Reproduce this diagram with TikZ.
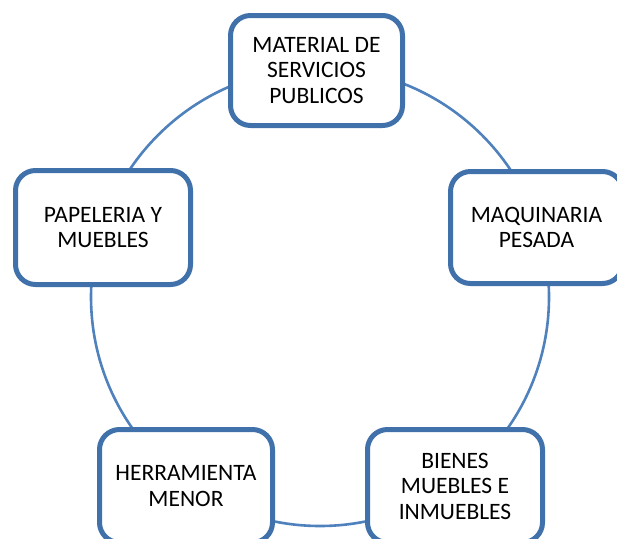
\documentclass[tikz,border=0pt]{standalone}
\usepackage{fontspec}
\setmainfont{Carlito}
\definecolor{ringblue}{RGB}{79,129,189}
\definecolor{boxblue}{RGB}{65,113,170}
\begin{document}
\begin{tikzpicture}[x=1pt,y=-1pt,
  card/.style={draw=boxblue,line width=5pt,rounded corners=20pt,fill=white,
    align=center,font=\fontsize{23.5}{25.5}\selectfont,inner sep=0pt},
  ring/.style={draw=ringblue,line width=2.6pt}]
\useasboundingbox (0,0) rectangle (617,538);
\coordinate (c) at (320,297);
\draw[ring] (c) circle (229);
\node[card,minimum width=172pt,minimum height=110pt] (top) at (316.5,70.5) {MATERIAL DE\\SERVICIOS\\PUBLICOS};
\node[card,minimum width=172pt,minimum height=112pt] (right) at (536.5,227.5) {MAQUINARIA\\PESADA};
\node[card,minimum width=175pt,minimum height=114pt] (left) at (103,227.5) {PAPELERIA Y\\MUEBLES};
\node[card,minimum width=173pt,minimum height=113pt] (bl) at (186,486) {HERRAMIENTA\\MENOR};
\node[card,minimum width=175pt,minimum height=113pt] (br) at (455,486) {BIENES\\MUEBLES E\\INMUEBLES};
\end{tikzpicture}
\end{document}
